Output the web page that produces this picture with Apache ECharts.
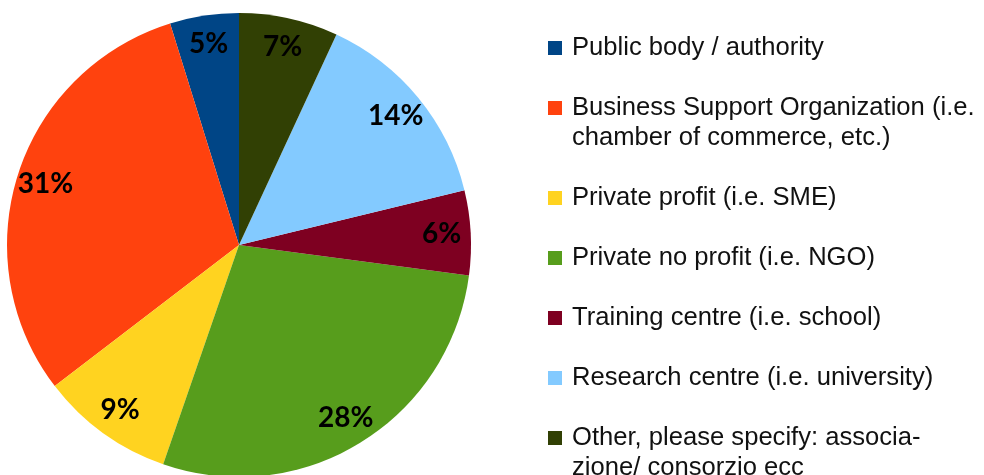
<!DOCTYPE html>
<html>
<head>
    <meta charset="UTF-8">
    <title>Organisation types</title>
    <script src="https://cdn.jsdelivr.net/npm/echarts@6/dist/echarts.min.js"></script>
    <style>
        body { margin: 0; background: #fff; }
    </style>
</head>
<body>
<div id="pie" style="width:984px; height:475px;"></div>
<script>
    // categories and shares (%)
    var names = [
        'Public body / authority',
        'Business Support Organization (i.e.\nchamber of commerce, etc.)',
        'Private profit (i.e. SME)',
        'Private no profit (i.e. NGO)',
        'Training centre (i.e. school)',
        'Research centre (i.e. university)',
        'Other, please specify: associa-\nzione/ consorzio ecc'
    ];
    var shares = [4.8, 30.6, 9.3, 28.2, 5.9, 14.3, 6.9];
    var colors = ['#004586', '#ff420e', '#ffd320', '#579d1c', '#7e0021', '#83caff', '#314004'];

    var data = names.map(function (n, i) {
        return {name: n, value: shares[i]};
    });

    // legend squares go in as rich text so they sit on the first line
    var rich = {
        t: {padding: [0, 0, 0, 10], fontSize: 25.6, lineHeight: 30, color: '#111', fontFamily: 'Liberation Sans'},
        u: {padding: [0, 0, 0, 24], fontSize: 25.6, lineHeight: 30, color: '#111', fontFamily: 'Liberation Sans'}
    };
    colors.forEach(function (c, i) {
        rich['s' + i] = {width: 14, height: 14, backgroundColor: c};
    });

    var chart = echarts.init(document.getElementById('pie'), null, {renderer: 'canvas'});
    var option = {
        animation: false,
        color: colors,
        legend: {
            orient: 'vertical',
            left: 543,
            top: 33,
            height: 600,
            padding: 0,
            itemGap: 30,
            itemWidth: 0,
            itemHeight: 14,
            icon: 'none',
            selectedMode: false,
            data: names,
            textStyle: {fontSize: 25.6, lineHeight: 30, color: '#111', fontFamily: 'Liberation Sans', rich: rich},
            formatter: function (name) {
                var i = names.indexOf(name);
                var lines = name.split('\n');
                var s = '{s' + i + '|}{t|' + lines[0] + '}';
                if (lines[1]) {
                    s += '\n{u|' + lines[1] + '}';
                }
                return s;
            }
        },
        series: [{
            type: 'pie',
            center: [239, 245],
            radius: [0, 232],
            startAngle: 90,
            clockwise: false,
            silent: true,
            label: {show: false},
            labelLine: {show: false},
            data: data
        }, {
            // transparent ring, only used to put the % labels near the rim
            type: 'pie',
            center: [239, 245],
            radius: [168, 232],
            startAngle: 90,
            clockwise: false,
            silent: true,
            itemStyle: {color: 'rgba(0,0,0,0)'},
            label: {
                show: true,
                position: 'inside',
                color: '#000',
                fontFamily: 'Lato',
                fontWeight: 'bold',
                fontSize: 28,
                formatter: function (p) {
                    return Math.round(p.value) + '%';
                }
            },
            labelLine: {show: false},
            data: data
        }]
    };
    chart.setOption(option);
</script>
</body>
</html>
